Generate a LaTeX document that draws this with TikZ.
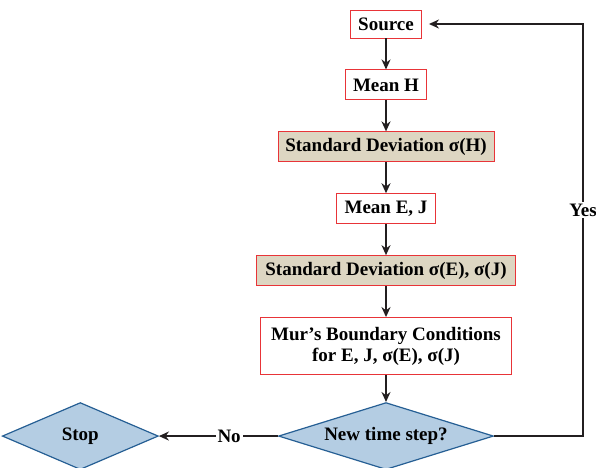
\documentclass[tikz,border=0pt]{standalone}
\usepackage{fontspec}
\setmainfont{Liberation Serif}
\usetikzlibrary{positioning, arrows.meta, shapes.geometric}
\definecolor{boxred}{RGB}{232,52,56}
\definecolor{boxtan}{RGB}{221,214,194}
\definecolor{diafill}{RGB}{180,205,227}
\definecolor{diadraw}{RGB}{38,95,148}
\definecolor{linegray}{RGB}{35,31,32}
\tikzset{%
  every box/.style={
    rectangle,
    draw=boxred,
    line width=0.9pt,
    fill=white,
    minimum height=30pt,
    inner xsep=5pt,
    inner ysep=2pt,
    align=center,
    font=\fontsize{19}{21}\selectfont\bfseries
  },
  shaded box/.style={
    every box,
    fill=boxtan
  },
  decision/.style={
    diamond,
    draw=diadraw,
    line width=1.2pt,
    fill=diafill,
    inner sep=0pt,
    minimum height=67pt,
    font=\fontsize{19}{21}\selectfont\bfseries
  }
}

\begin{document}
\begin{tikzpicture}[x=1pt,y=1pt,>={Stealth[length=10pt,width=9pt]},node distance=31pt,
  flow/.style={->, line width=2.4pt, draw=linegray},
  label text/.style={fill=white, inner sep=2pt, font=\fontsize{19}{21}\selectfont\bfseries}]
		\useasboundingbox (0,0) rectangle (596,-467);
		%% main column
		\node[every box, minimum width=71pt, minimum height=28pt] (src) at (386,-24) {Source};
		\node[every box, minimum width=81pt, below=of src] (meanh) {Mean H};
		\node[shaded box, minimum width=216pt, below=of meanh] (sdh) {Standard Deviation σ(H)};
		\node[every box, minimum width=99pt, below=of sdh] (meanej) {Mean E, J};
		\node[shaded box, minimum width=259pt, below=of meanej] (sdej) {Standard Deviation σ(E), σ(J)};
		\node[every box, minimum width=251pt, minimum height=57pt, below=of sdej] (mur) {Mur’s Boundary Conditions\\for E, J, σ(E), σ(J)};
		%% decisions
		\node[decision, shape aspect=3.2, minimum width=215pt, below=27pt of mur] (newstep) {New time step?};
		\node[decision, shape aspect=2.36, minimum width=156pt, left=119pt of newstep] (stop) {Stop};
		\coordinate (loop) at (583,-24);
		%% connections
		\draw[flow] (src) -- (meanh);
		\draw[flow] (meanh) -- (sdh);
		\draw[flow] (sdh) -- (meanej);
		\draw[flow] (meanej) -- (sdej);
		\draw[flow] (sdej) -- (mur);
		\draw[flow] (mur) -- (newstep);
		% no
		\draw[flow] (newstep.west) -- node[label text, pos=0.41] (no) {No} (stop.east);
		% yes
		\draw[flow, shorten >=7pt] (newstep.east) -| (loop) -- (src.east);
		\node[label text] (yes) at (583,-210) {Yes};
	\end{tikzpicture}
\end{document}
